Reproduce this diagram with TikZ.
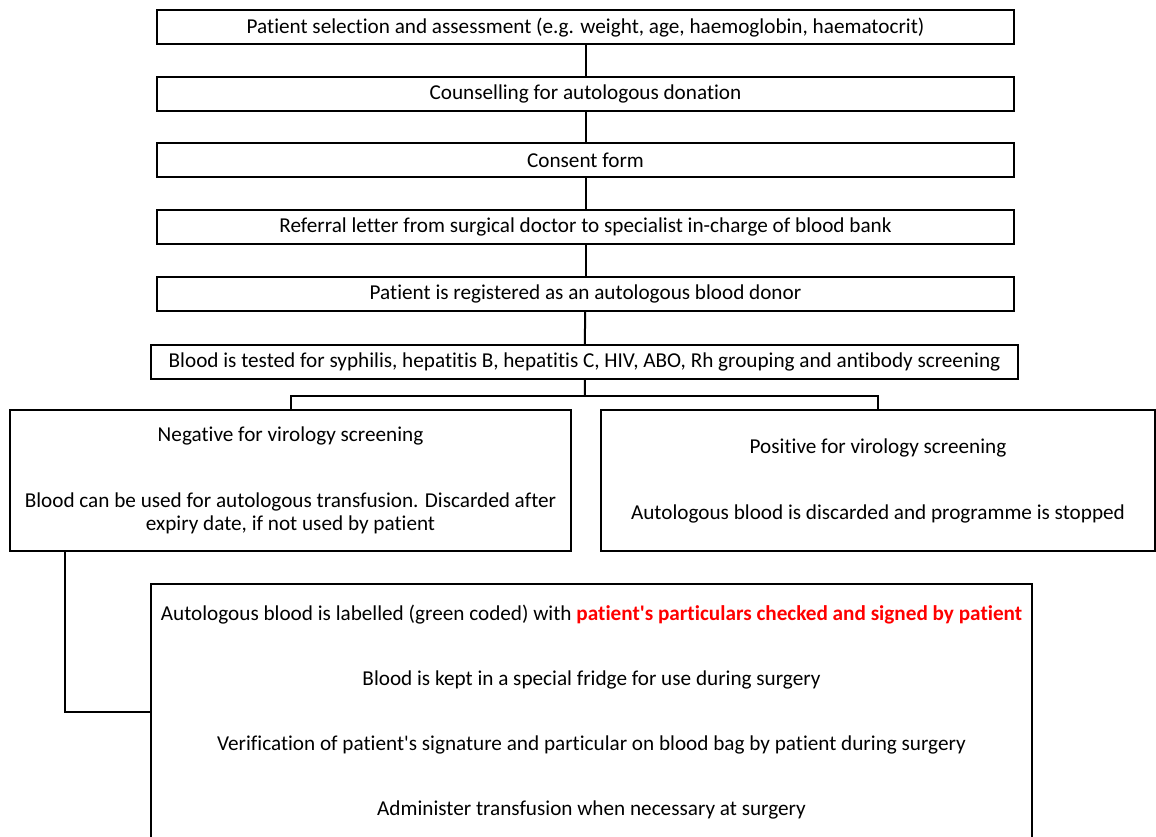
\documentclass[tikz,border=0pt]{standalone}
\usepackage{fontspec}
\setmainfont{Carlito}[Ligatures={TeXOff,NoCommon}]
\usetikzlibrary{positioning}
\begin{document}
\begin{tikzpicture}[x=1pt,y=-1pt,
  every node/.style={font=\fontsize{21.2}{23}\selectfont, inner sep=0pt},
  stepbox/.style={draw, line width=2pt, minimum width=857pt, minimum height=34pt, align=center},
  outcome/.style={draw, line width=2pt, minimum height=141pt, align=center},
  link/.style={line width=2pt}]
\useasboundingbox (0,0) rectangle (1156,837);
\fill[white] (0,0) rectangle (1156,837);

\node[stepbox] (b1) at (585.5,27.5) {Patient selection and assessment (e.g. weight, age, haemoglobin, haematocrit)};
\node[stepbox] (b2) at (585.5,94) {Counselling for autologous donation};
\node[stepbox] (b3) at (585.5,160.5) {Consent form};
\node[stepbox] (b4) at (585.5,227) {Referral letter from surgical doctor to specialist in-charge of blood bank};
\node[stepbox] (b5) at (585.5,294) {Patient is registered as an autologous blood donor};
\node[stepbox, minimum width=867pt] (b6) at (584.5,362) {Blood is tested for syphilis, hepatitis B, hepatitis C, HIV, ABO, Rh grouping and antibody screening};

\node[outcome, minimum width=561pt] (neg) at (290.5,480.5)
  {Negative for virology screening\\[43pt]
   Blood can be used for autologous transfusion. Discarded after\\
   expiry date, if not used by patient};
\node[outcome, minimum width=554pt] (pos) at (878,480.5)
  {Positive for virology screening\\[43pt]
   Autologous blood is discarded and programme is stopped};

\node[draw, line width=2pt, minimum width=881pt, minimum height=256pt, align=center,
      font=\fontsize{21.2}{65}\selectfont] (care) at (591.5,712)
  {Autologous blood is labelled (green coded) with \textcolor{red}{\bfseries patient's particulars checked and signed by patient}\\
   Blood is kept in a special fridge for use during surgery\\
   Verification of patient's signature and particular on blood bag by patient during surgery\\
   Administer transfusion when necessary at surgery};

\draw[link] (b1) -- (b2);
\draw[link] (b2) -- (b3);
\draw[link] (b3) -- (b4);
\draw[link] (b4) -- (b5);
\draw[link] (b5) -- (b6);
\coordinate (split) at (585,396);
\draw[link] (b6) -- (split);
\draw[link] (neg.north) |- (split) -| (pos.north);
\draw[link] ([xshift=56pt]neg.south west) |- (care.west);
\end{tikzpicture}
\end{document}
